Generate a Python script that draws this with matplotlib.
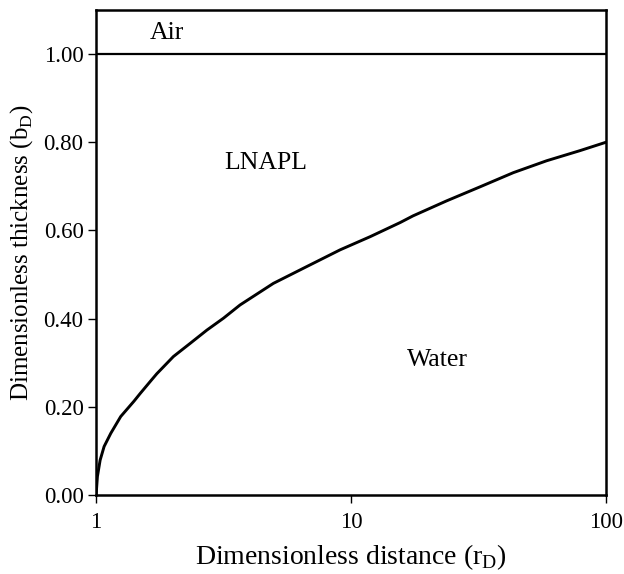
"""
LNAPL / water interface thickness against radial distance
"""

import matplotlib
matplotlib.use("Agg")
import matplotlib.pyplot as plt
from matplotlib.ticker import NullLocator

plt.rcParams['font.family'] = ['Liberation Serif', 'DejaVu Serif']
plt.rcParams['mathtext.fontset'] = 'custom'
plt.rcParams['mathtext.rm'] = 'Liberation Serif'

# dimensionless distance and interface thickness
r_d = [1.0, 1.012, 1.037, 1.075, 1.142, 1.249, 1.409, 1.488, 1.639, 1.73,
       2.01, 2.34, 2.72, 3.16, 3.67, 4.96, 6.70, 9.06, 11.9, 15.6, 17.5,
       23.7, 32.1, 43.3, 58.5, 79.1, 100.0]
b_d = [0.0, 0.042, 0.079, 0.110, 0.140, 0.178, 0.213, 0.230, 0.259, 0.275,
       0.314, 0.344, 0.374, 0.401, 0.431, 0.480, 0.518, 0.556, 0.586, 0.618, 0.633,
       0.667, 0.699, 0.731, 0.758, 0.781, 0.80]

air_level = 1.0
y_ticks = [0.0, 0.2, 0.4, 0.6, 0.8, 1.0]
x_ticks = [1, 10, 100]

fig = plt.figure(figsize=(6.24, 5.74), dpi=100)
ax = fig.add_axes([0.154, 0.1376, 0.817, 0.845])

ax.plot(r_d, b_d, color='black', lw=2.1, solid_joinstyle='round')
ax.axhline(air_level, color='black', lw=1.6)

ax.set_xscale('log')
ax.set_xlim(1, 100)
ax.set_ylim(0, 1.1)
ax.set_xticks(x_ticks)
ax.set_xticklabels([str(t) for t in x_ticks])
ax.xaxis.set_minor_locator(NullLocator())
ax.set_yticks(y_ticks)
ax.set_yticklabels([f'{t:.2f}' for t in y_ticks])
ax.tick_params(direction='out', length=6, width=1.0, labelsize=16.5)
ax.tick_params(axis='x', pad=6)
ax.tick_params(axis='y', pad=3)

for s in ax.spines.values():
    s.set_linewidth(1.8)

ax.text(1.90, 1.048, 'Air', fontsize=18.5, ha='center', va='center')
ax.text(4.62, 0.753, 'LNAPL', fontsize=18.5, ha='center', va='center')
ax.text(21.8, 0.306, 'Water', fontsize=18.5, ha='center', va='center')

ax.set_xlabel(r'Dimensionless distance (r$_\mathregular{D}$)', fontsize=20, labelpad=7)
ax.set_ylabel(r'Dimensionless thickness (b$_\mathregular{D}$)', fontsize=18, labelpad=6)

fig.savefig('out.png', dpi=100)
